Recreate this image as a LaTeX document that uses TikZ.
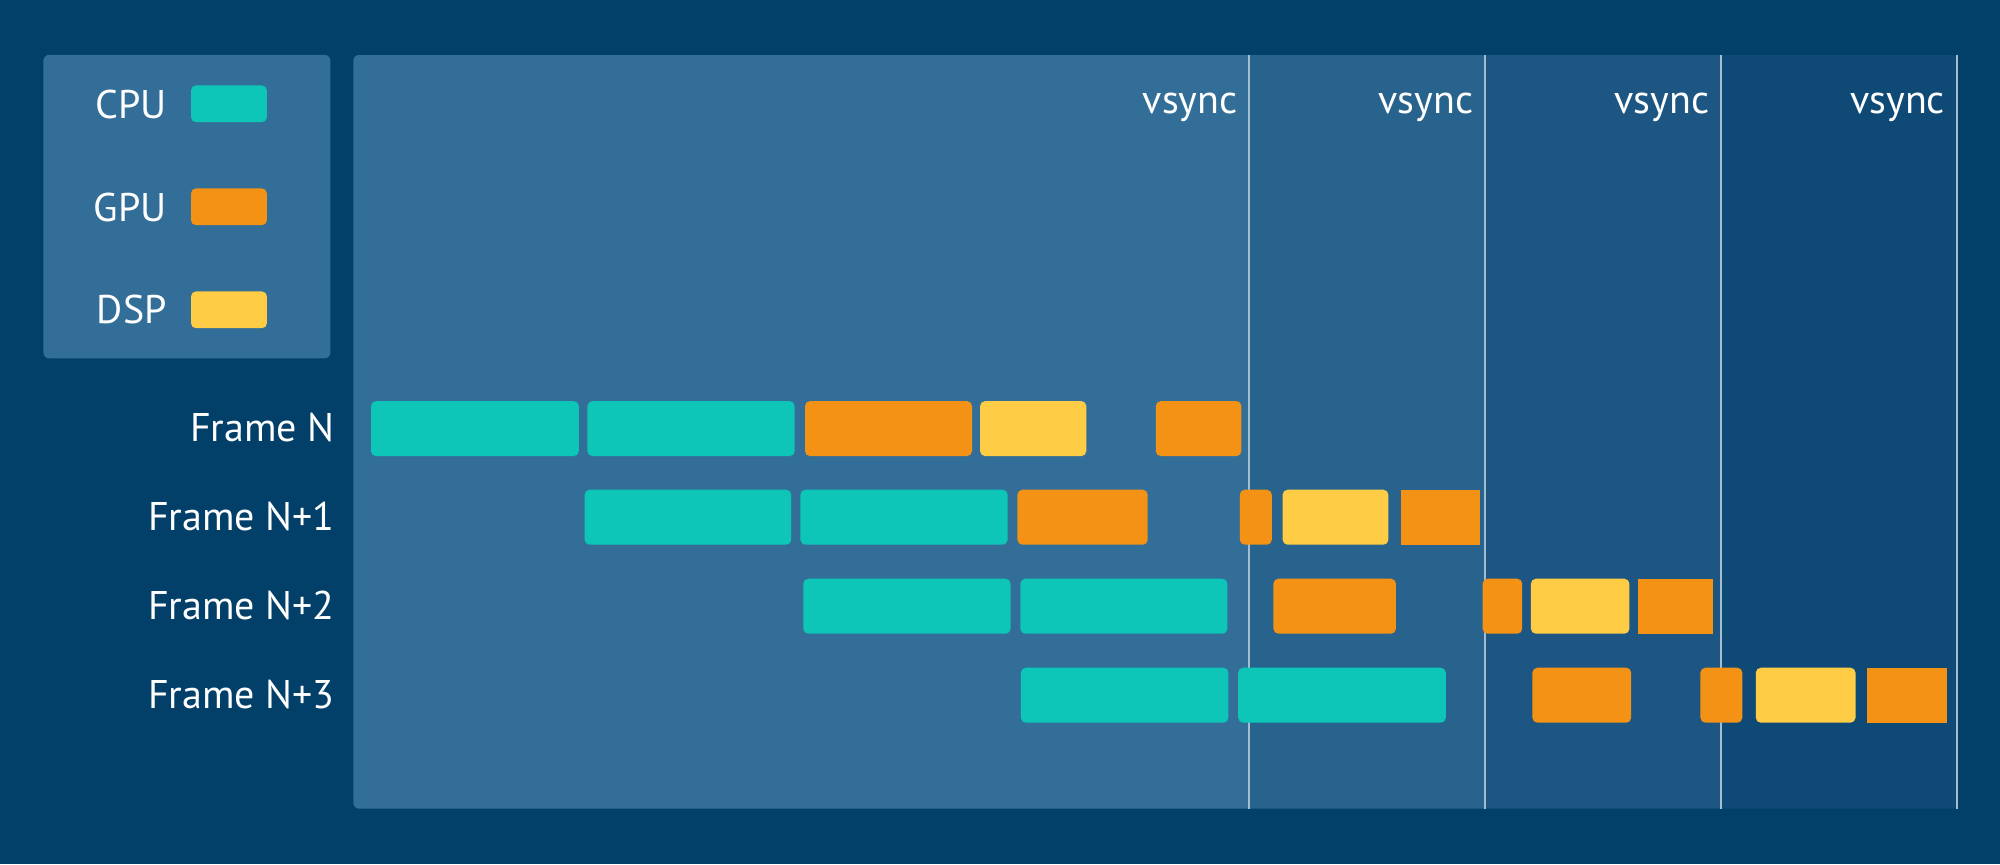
\documentclass[tikz,border=0pt]{standalone}
\usepackage{fontspec}
\setmainfont{PT Sans}
\definecolor{bgnavy}{HTML}{02406A}
\definecolor{regA}{HTML}{336E99}
\definecolor{regB}{HTML}{28638E}
\definecolor{regC}{HTML}{1D5682}
\definecolor{regD}{HTML}{0F4A76}
\definecolor{cpuc}{HTML}{0DC6B7}
\definecolor{gpuc}{HTML}{F39214}
\definecolor{dspc}{HTML}{FFCD45}
\definecolor{vline}{HTML}{A3BCD0}
\tikzset{
  lbl/.style={font=\fontsize{20}{24}\selectfont, text=white, inner sep=0pt},
  cpubar/.style={fill=cpuc, rounded corners=2.5pt, inner sep=0pt, draw=none},
  gpubar/.style={fill=gpuc, rounded corners=2.5pt, inner sep=0pt, draw=none},
  gpusq/.style={fill=gpuc, inner sep=0pt, draw=none},
  dspbar/.style={fill=dspc, rounded corners=2.5pt, inner sep=0pt, draw=none},
  swatch/.style={minimum height=18.4pt},
  vsyncline/.style={draw=vline, line width=1pt},
}
\newcommand\tbar[5]{%
  \node[#2, anchor=north west, minimum width={(#4-#3)*0.5pt}, minimum height=27.5pt] (#1) at (#3,#5) {};}
\newcommand\tswatch[5]{%
  \node[#2, swatch, anchor=north west, minimum width={(#4-#3)*0.5pt}] (#1) at (#3,#5) {};}
\begin{document}
\begin{tikzpicture}[x=0.5pt, y=-0.5pt]
  \fill[bgnavy] (0,0) rectangle (2000,864);
  \useasboundingbox (0,0) rectangle (2000,864);
  % legend
  \fill[regA, rounded corners=3pt] (43.4,54.8) rectangle (330.4,358.4);
  \node[lbl, anchor=east] (lcpu) at (167,104) {CPU};
  \node[lbl, anchor=east] (lgpu) at (167,207) {GPU};
  \node[lbl, anchor=east] (ldsp) at (167,309) {DSP};
  \tswatch{scpu}{cpubar}{190.6}{266.5}{85}
  \tswatch{sgpu}{gpubar}{190.6}{266.5}{188}
  \tswatch{sdsp}{dspbar}{190.6}{266.5}{291}
  % panel with regions
  \begin{scope}
    \clip[rounded corners=3pt] (353.3,54.8) rectangle (1958,808.7);
    \fill[regA] (353.3,54.8) rectangle (1249.3,808.7);
    \fill[regB] (1249.3,54.8) rectangle (1485.2,808.7);
    \fill[regC] (1485.2,54.8) rectangle (1721.1,808.7);
    \fill[regD] (1721.1,54.8) rectangle (1958,808.7);
  \end{scope}
  \foreach \xx/\nm in {1249.3/v1,1485.2/v2,1721.1/v3,1956.8/v4}{
    \coordinate (\nm t) at (\xx,54.8);
    \coordinate (\nm b) at (\xx,808.7);
    \draw[vsyncline] (\nm t) -- (\nm b);
    \node[lbl, anchor=base east] (\nm lab) at (\xx-11.5,113.5) {vsync};
  }
  % frame labels
  \node[lbl, anchor=east] (f0) at (335,427.5) {Frame N};
  \node[lbl, anchor=east] (f1) at (335,516.5) {Frame N+1};
  \node[lbl, anchor=east] (f2) at (335,605.5) {Frame N+2};
  \node[lbl, anchor=east] (f3) at (335,694.5) {Frame N+3};
  % row 1
  \tbar{a1}{cpubar}{370.6}{578.4}{400.7}
  \tbar{a2}{cpubar}{587}{794.3}{400.7}
  \tbar{a3}{gpubar}{804.6}{971.6}{400.7}
  \tbar{a4}{dspbar}{979.7}{1085.9}{400.7}
  \tbar{a5}{gpubar}{1155.4}{1241}{400.7}
  % row 2
  \tbar{b1}{cpubar}{584.2}{790.8}{489.3}
  \tbar{b2}{cpubar}{800}{1007.2}{489.3}
  \tbar{b3}{gpubar}{1017}{1147.3}{489.3}
  \tbar{b4}{gpubar}{1239.4}{1271.4}{489.3}
  \tbar{b5}{dspbar}{1282.2}{1388}{489.3}
  \tbar{b6}{gpusq}{1400.4}{1480}{489.3}
  % row 3
  \tbar{c1}{cpubar}{802.9}{1010.1}{578.3}
  \tbar{c2}{cpubar}{1019.9}{1227}{578.3}
  \tbar{c3}{gpubar}{1273}{1395.5}{578.3}
  \tbar{c4}{gpubar}{1482.2}{1521.8}{578.3}
  \tbar{c5}{dspbar}{1530.5}{1629}{578.3}
  \tbar{c6}{gpusq}{1637.8}{1712.6}{578.3}
  % row 4
  \tbar{d1}{cpubar}{1020.4}{1228}{667.3}
  \tbar{d2}{cpubar}{1237.8}{1445.4}{667.3}
  \tbar{d3}{gpubar}{1532}{1630.8}{667.3}
  \tbar{d4}{gpubar}{1700}{1741.9}{667.3}
  \tbar{d5}{dspbar}{1755.4}{1855.1}{667.3}
  \tbar{d6}{gpusq}{1866.5}{1946.2}{667.3}
\end{tikzpicture}
\end{document}
